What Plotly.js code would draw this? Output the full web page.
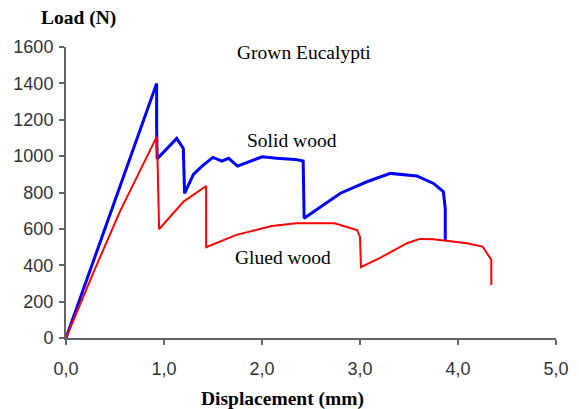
<!DOCTYPE html>
<html>
<head>
<meta charset="utf-8">
<script src="https://cdn.plot.ly/plotly-3.0.1.min.js"></script>
<style>html,body{margin:0;padding:0;background:#fff;}#chart{width:579px;height:409px;}</style>
</head>
<body>
<div id="chart"></div>
<script>
// Solid wood (blue)
const solidX = [0, 0.925, 0.925, 0.93, 1.13, 1.197, 1.21, 1.30, 1.40, 1.50, 1.59, 1.66, 1.75, 1.88, 2.00, 2.15, 2.34, 2.42, 2.43, 2.80, 3.07, 3.31, 3.58, 3.75, 3.85, 3.87, 3.87];
const solidY = [0, 1400, 1150, 985, 1097, 1042, 795, 900, 951, 993, 973, 988, 945, 973, 996, 988, 982, 973, 658, 796, 859, 905, 891, 850, 805, 713, 539];
// Glued wood (red)
const gluedX = [0, 0.3, 0.55, 0.925, 0.935, 0.95, 1.20, 1.30, 1.43, 1.43, 1.74, 2.10, 2.35, 2.74, 2.97, 3.00, 3.01, 3.20, 3.48, 3.61, 3.75, 4.09, 4.25, 4.34, 4.34];
const gluedY = [0, 385, 695, 1106, 960, 598, 750, 786, 836, 499, 567, 616, 631, 631, 594, 557, 390, 439, 521, 545, 543, 521, 503, 430, 292];
const xTicks = [0, 1, 2, 3, 4, 5];
const xTickLabels = ['0,0', '1,0', '2,0', '3,0', '4,0', '5,0'];
const yTicks = [0, 200, 400, 600, 800, 1000, 1200, 1400, 1600];

const serif = 'Liberation Serif, Times New Roman, serif';
const traces = [
  {x: solidX, y: solidY, type: 'scatter', mode: 'lines', line: {color: '#0000ff', width: 3}, name: 'Solid wood'},
  {x: gluedX, y: gluedY, type: 'scatter', mode: 'lines', line: {color: '#ff0000', width: 2}, name: 'Glued wood'}
];
const axisCommon = {
  showgrid: false, zeroline: false, showline: true, linecolor: '#666', linewidth: 2,
  ticks: 'outside', ticklen: 5, tickwidth: 2, tickcolor: '#666',
  tickfont: {family: 'Liberation Sans, Arial, sans-serif', size: 18, color: '#333'}
};
const ann = (text, xref, yref, x, y) => ({text, xref, yref, x, y, xanchor: 'center', yanchor: 'middle', showarrow: false, font: {family: serif, size: 19.5, color: '#000'}});
const layout = {
  width: 579, height: 409,
  margin: {l: 66, r: 23, t: 47, b: 71},
  paper_bgcolor: '#fff', plot_bgcolor: '#fff',
  showlegend: false,
  xaxis: Object.assign({}, axisCommon, {range: [0, 5], tickvals: xTicks, ticktext: xTickLabels, ticklabelstandoff: 8}),
  yaxis: Object.assign({}, axisCommon, {range: [0, 1600], tickvals: yTicks, ticklabelstandoff: 2}),
  annotations: [
    ann('<b>Load (N)</b>', 'paper', 'paper', 0.0265, 1.098),
    ann('<b>Displacement (mm)</b>', 'paper', 'paper', 0.441, -0.211),
    ann('Grown Eucalypti', 'x', 'y', 2.43, 1571),
    ann('Solid wood', 'x', 'y', 2.31, 1088),
    ann('Glued wood', 'x', 'y', 2.21, 441)
  ]
};
Plotly.newPlot('chart', traces, layout, {staticPlot: true, displayModeBar: false});
</script>
</body>
</html>
